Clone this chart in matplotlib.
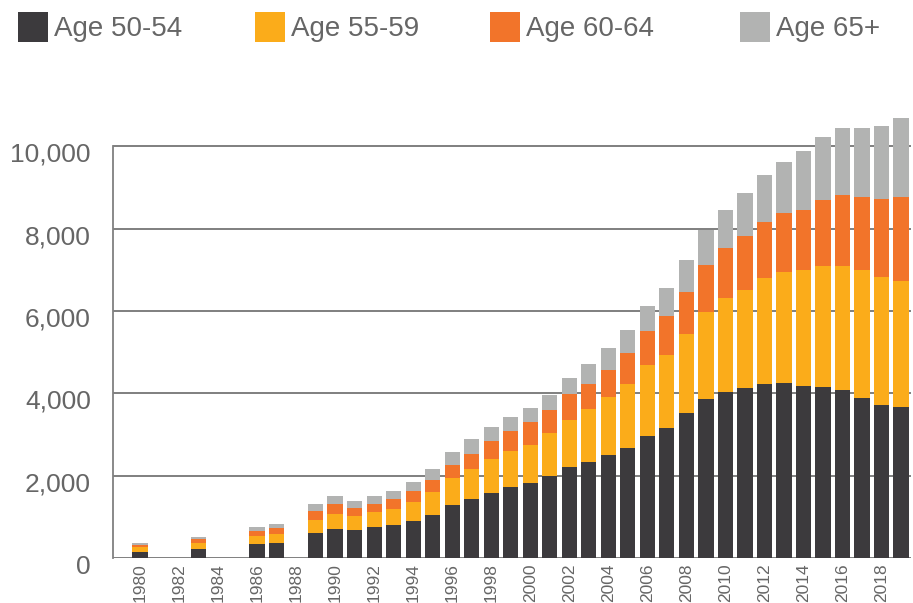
import matplotlib
matplotlib.use("Agg")
import matplotlib.pyplot as plt
from matplotlib.patches import Patch
from matplotlib.transforms import ScaledTranslation
import numpy as np

plt.rcParams['font.family'] = ['Liberation Sans', 'DejaVu Sans']

years = [1980, 1983, 1986, 1987, 1989, 1990, 1991, 1992, 1993, 1994, 1995,
         1996, 1997, 1998, 1999, 2000, 2001, 2002, 2003, 2004, 2005, 2006,
         2007, 2008, 2009, 2010, 2011, 2012, 2013, 2014, 2015, 2016, 2017,
         2018, 2019]
age_50_54 = [140, 211, 333, 358, 605, 705, 683, 756, 805, 902, 1049,
             1293, 1439, 1585, 1732, 1829, 2000, 2220, 2341, 2512, 2659, 2951,
             3146, 3512, 3870, 4037, 4134, 4231, 4256, 4183, 4159, 4086, 3892,
             3722, 3673]
age_55_59 = [122, 146, 195, 220, 317, 366, 341, 366, 390, 463, 561,
             659, 732, 829, 878, 927, 1024, 1122, 1268, 1390, 1561, 1732,
             1780, 1927, 2115, 2282, 2379, 2573, 2694, 2816, 2937, 3010, 3107,
             3107, 3058]
age_60_64 = [49, 98, 122, 146, 220, 244, 195, 195, 244, 268, 293,
             317, 366, 439, 463, 537, 561, 634, 610, 659, 756, 829,
             951, 1024, 1120, 1214, 1311, 1359, 1432, 1456, 1602, 1723, 1772,
             1893, 2039]
age_65_plus = [49, 49, 98, 98, 171, 195, 171, 195, 195, 220, 268,
               317, 341, 317, 341, 341, 366, 390, 488, 537, 561, 610,
               683, 780, 850, 922, 1044, 1141, 1238, 1432, 1529, 1626, 1675,
               1772, 1917]
series_labels = ['Age 50-54', 'Age 55-59', 'Age 60-64', 'Age 65+']
colors = ['#3c3a3d', '#fbac1a', '#f2742a', '#b2b3b2']
tick_years = list(range(1980, 2019, 2))
ytick_vals = [0, 2000, 4000, 6000, 8000, 10000]

W, H = 913, 603
fig = plt.figure(figsize=(W / 100, H / 100), dpi=100)
ax = fig.add_axes([113 / W, 45 / H, 798 / W, 453 / H])

data = [age_50_54, age_55_59, age_60_64, age_65_plus]
bottom = np.zeros(len(years))
handles = []
for vals, c, lab in zip(data, colors, series_labels):
    vals = np.array(vals, dtype=float)
    ax.bar(years, vals, bottom=bottom, width=0.78, color=c, label=lab, zorder=3)
    bottom += vals
    handles.append(Patch(facecolor=c, edgecolor='none', label=lab))

ax.set_xlim(1978.62, 2019.51)
ax.set_ylim(0, 11000)
ax.set_yticks(ytick_vals)
ax.set_yticklabels([f'{v:,}' for v in ytick_vals])
ax.set_xticks(tick_years)
ax.set_xticklabels([str(y) for y in tick_years], rotation=90)

txt_color = '#666666'
ax.tick_params(axis='y', length=0, pad=16, labelsize=19, labelcolor=txt_color)
ax.tick_params(axis='x', length=0, pad=4, labelsize=12.5, labelcolor=txt_color)
shift = ScaledTranslation(0, -6 / 100, fig.dpi_scale_trans)
for lbl in ax.get_yticklabels():
    lbl.set_transform(lbl.get_transform() + shift)

for s in ['top', 'right', 'bottom']:
    ax.spines[s].set_visible(False)
ax.spines['left'].set_color('#808080')
ax.spines['left'].set_linewidth(1.3)
ax.spines['left'].set_bounds(0, 10000)

ax.yaxis.grid(True, color='#7f7f7f', linewidth=1.4, zorder=0)
ax.set_axisbelow(True)

leg_x = [18, 255, 490, 740]
for h, x in zip(handles, leg_x):
    leg = fig.legend(handles=[h], loc='upper left',
                     bbox_to_anchor=(x / W, 1 - 12 / H),
                     frameon=False, fontsize=20, handlelength=1.08,
                     handleheight=1.284, handletextpad=0.22,
                     borderaxespad=0, borderpad=0)
    for t in leg.get_texts():
        t.set_color(txt_color)

fig.savefig('out.png', dpi=100)
